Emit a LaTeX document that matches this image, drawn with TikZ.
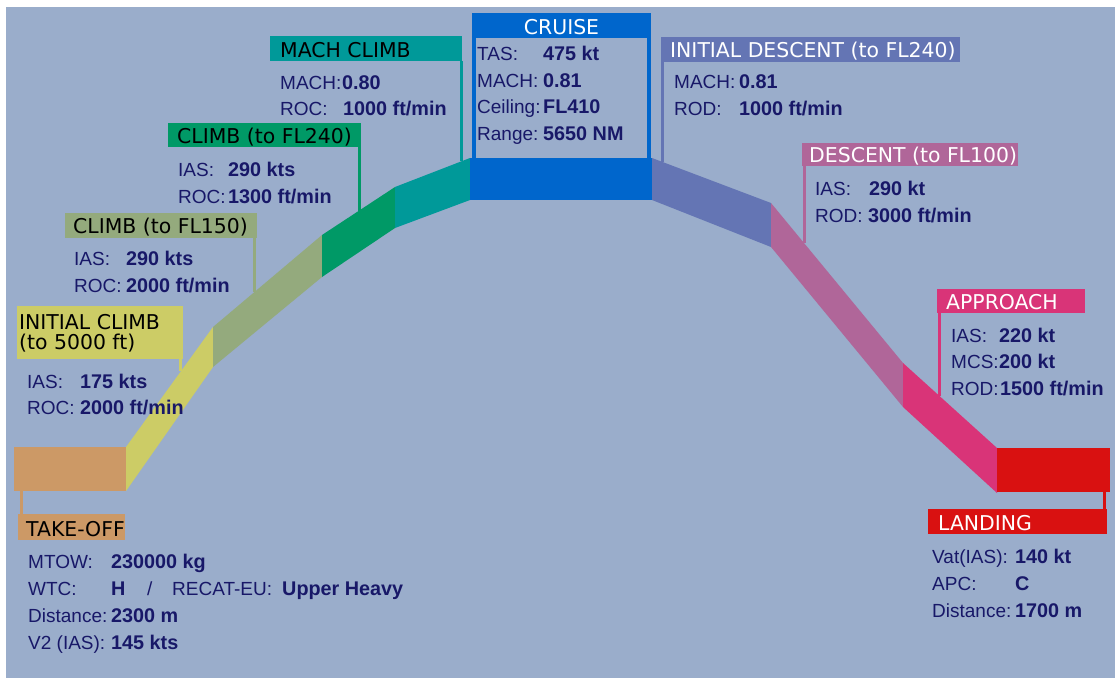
\documentclass[tikz,border=0pt]{standalone}
\usepackage{fontspec}
\setmainfont{Liberation Sans}
\newfontfamily\titlefont{DejaVu Sans}
\usetikzlibrary{calc}

% phase colours
\definecolor{bgpanel}{RGB}{154,173,203}
\definecolor{ink}{RGB}{24,24,104}
\definecolor{cTO}{RGB}{204,153,102}
\definecolor{cIC}{RGB}{204,204,102}
\definecolor{cCA}{RGB}{148,170,125}
\definecolor{cCB}{RGB}{0,153,102}
\definecolor{cMC}{RGB}{0,153,153}
\definecolor{cCR}{RGB}{0,102,204}
\definecolor{cID}{RGB}{100,117,180}
\definecolor{cDE}{RGB}{176,102,153}
\definecolor{cAP}{RGB}{217,52,120}
\definecolor{cLD}{RGB}{217,17,17}

\begin{document}
\begin{tikzpicture}[x=1pt,y=-1pt,
  key/.style={anchor=base west, inner sep=0pt, text=ink, font=\fontsize{19}{22}\selectfont},
  val/.style={anchor=base west, inner sep=0pt, text=ink, font=\fontsize{19.8}{22}\selectfont\bfseries},
  ttl/.style={anchor=base west, inner sep=0pt, font=\titlefont\fontsize{20.4}{20}\selectfont},
  tag/.style={anchor=north west, inner sep=0pt, outer sep=0pt, draw=none},
  lead/.style={line width=3pt}]

% canvas
\useasboundingbox (0,0) rectangle (1115,678);
\fill[white] (0,0) rectangle (1115,678);
\fill[bgpanel] (6,7) rectangle (1115,678);

% flight-profile band breakpoints (top / bottom edge)
\coordinate (p0t) at (126,447); \coordinate (p0b) at (126,491);
\coordinate (p1t) at (213,327); \coordinate (p1b) at (213,367);
\coordinate (p2t) at (322,235); \coordinate (p2b) at (322,277);
\coordinate (p3t) at (395,187); \coordinate (p3b) at (395,228);
\coordinate (p4t) at (470,158); \coordinate (p4b) at (470,200);
\coordinate (p5t) at (652,158); \coordinate (p5b) at (652,200);
\coordinate (p6t) at (771,203); \coordinate (p6b) at (771,247);
\coordinate (p7t) at (903,363); \coordinate (p7b) at (903,407);
\coordinate (p8t) at (997,448); \coordinate (p8b) at (997,493);

% band segments
\node[tag, fill=cTO, minimum width=112pt, minimum height=44pt] (tobox) at (14,447) {};
\fill[cIC] (p0t) -- (p1t) -- (p1b) -- (p0b) -- cycle;
\fill[cCA] (p1t) -- (p2t) -- (p2b) -- (p1b) -- cycle;
\fill[cCB] (p2t) -- (p3t) -- (p3b) -- (p2b) -- cycle;
\fill[cMC] (p3t) -- (p4t) -- (p4b) -- (p3b) -- cycle;
\fill[cCR] (p4t) -- (p5t) -- (p5b) -- (p4b) -- cycle;
\fill[cID] (p5t) -- (p6t) -- (p6b) -- (p5b) -- cycle;
\fill[cDE] (p6t) -- (p7t) -- (p7b) -- (p6b) -- cycle;
\fill[cAP] (p7t) -- (p8t) -- (p8b) -- (p7b) -- cycle;
\node[tag, fill=cLD, minimum width=113pt, minimum height=44pt] (ldbox) at (997,448) {};

% anchor points of the leader lines on the band
\coordinate (aIC) at ($(p0t)!0.632!(p1t)$);
\coordinate (aCA) at ($(p1t)!0.385!(p2t)$);
\coordinate (aCB) at ($(p2t)!0.507!(p3t)$);
\coordinate (aMC) at ($(p3t)!0.88!(p4t)$);
\coordinate (aID) at ($(p5t)!0.092!(p6t)$);
\coordinate (aDE) at ($(p6t)!0.25!(p7t)$);
\coordinate (aAP) at ($(p7t)!0.383!(p8t)$);

% ---------- TAKE-OFF ----------
\node[tag, fill=cTO, minimum width=107pt, minimum height=26pt] (totag) at (18,514) {};
\draw[lead, cTO] ([xshift=7.3pt]tobox.south west) -- ([xshift=7.3pt]tobox.south west |- totag.north);
\node[ttl] (tott) at (26,536) {TAKE-OFF};
\node[key] (tok1) at (28,568) {MTOW:};
\node[val] (tov1) at (111,568) {230000 kg};
\node[key] (tok2) at (28,595) {WTC:};
\node[val] (tov2) at (111,595) {H};
\node[key] (tok2b) at (147,595) {/};
\node[key] (tok2c) at (172,595) {RECAT-EU:};
\node[val] (tov2c) at (282,595) {Upper Heavy};
\node[key] (tok3) at (28,622) {Distance:};
\node[val] (tov3) at (111,622) {2300 m};
\node[key] (tok4) at (28,649) {V2 (IAS):};
\node[val] (tov4) at (111,649) {145 kts};

% ---------- INITIAL CLIMB ----------
\node[tag, fill=cIC, minimum width=166pt, minimum height=53pt] (ictag) at (17,306) {};
\draw[lead, cIC] (aIC |- ictag.south) -- (aIC);
\node[ttl] (ictt1) at (19,329) {INITIAL CLIMB};
\node[ttl] (ictt2) at (19,349) {(to 5000 ft)};
\node[key] (ick1) at (27,388) {IAS:};
\node[val] (icv1) at (80,388) {175 kts};
\node[key] (ick2) at (27,414) {ROC:};
\node[val] (icv2) at (80,414) {2000 ft/min};

% ---------- CLIMB (to FL150) ----------
\node[tag, fill=cCA, minimum width=192pt, minimum height=25pt] (catag) at (65,213) {};
\draw[lead, cCA] (aCA |- catag.south) -- (aCA);
\node[ttl] (catt) at (73,233) {CLIMB (to FL150)};
\node[key] (cak1) at (74,265) {IAS:};
\node[val] (cav1) at (126,265) {290 kts};
\node[key] (cak2) at (74,292) {ROC:};
\node[val] (cav2) at (126,292) {2000 ft/min};

% ---------- CLIMB (to FL240) ----------
\node[tag, fill=cCB, minimum width=193pt, minimum height=24pt] (cbtag) at (168,123) {};
\draw[lead, cCB] (aCB |- cbtag.south) -- (aCB);
\node[ttl] (cbtt) at (177,143) {CLIMB (to FL240)};
\node[key] (cbk1) at (178,176) {IAS:};
\node[val] (cbv1) at (228,176) {290 kts};
\node[key] (cbk2) at (178,203) {ROC:};
\node[val] (cbv2) at (228,203) {1300 ft/min};

% ---------- MACH CLIMB ----------
\node[tag, fill=cMC, minimum width=192pt, minimum height=25pt] (mctag) at (270,36) {};
\draw[lead, cMC] (aMC |- mctag.south) -- (aMC);
\node[ttl] (mctt) at (280,57) {MACH CLIMB};
\node[key] (mck1) at (280,89) {MACH:};
\node[val] (mcv1) at (342,89) {0.80};
\node[key] (mck2) at (280,115) {ROC:};
\node[val] (mcv2) at (343,115) {1000 ft/min};

% ---------- CRUISE ----------
\node[tag, fill=cCR, minimum width=179pt, minimum height=25pt] (crtag) at (472,13) {};
\draw[line width=4pt, cCR] ([xshift=2pt]crtag.south west) -- ([xshift=2pt]crtag.south west |- p4t);
\draw[line width=4pt, cCR] ([xshift=-2pt]crtag.south east) -- ([xshift=-2pt]crtag.south east |- p5t);
\node[ttl, anchor=base, text=white] (crtt) at (561.5,34) {CRUISE};
\node[key] (crk1) at (477,60) {TAS:};
\node[val] (crv1) at (543,60) {475 kt};
\node[key] (crk2) at (477,87) {MACH:};
\node[val] (crv2) at (543,87) {0.81};
\node[key] (crk3) at (477,113) {Ceiling:};
\node[val] (crv3) at (543,113) {FL410};
\node[key] (crk4) at (477,140) {Range:};
\node[val] (crv4) at (543,140) {5650 NM};

% ---------- INITIAL DESCENT ----------
\node[tag, fill=cID, minimum width=299pt, minimum height=25pt] (idtag) at (661,37) {};
\draw[lead, cID] (aID |- idtag.south) -- (aID);
\node[ttl, text=white] (idtt) at (670,57) {INITIAL DESCENT (to FL240)};
\node[key] (idk1) at (674,88) {MACH:};
\node[val] (idv1) at (739,88) {0.81};
\node[key] (idk2) at (674,115) {ROD:};
\node[val] (idv2) at (739,115) {1000 ft/min};

% ---------- DESCENT (to FL100) ----------
\node[tag, fill=cDE, minimum width=216pt, minimum height=23pt] (detag) at (802,143) {};
\draw[lead, cDE] (aDE |- detag.south) -- (aDE);
\node[ttl, text=white] (dett) at (809,162) {DESCENT (to FL100)};
\node[key] (dek1) at (815,195) {IAS:};
\node[val] (dev1) at (869,195) {290 kt};
\node[key] (dek2) at (815,222) {ROD:};
\node[val] (dev2) at (868,222) {3000 ft/min};

% ---------- APPROACH ----------
\node[tag, fill=cAP, minimum width=148pt, minimum height=24pt] (aptag) at (937,289) {};
\draw[lead, cAP] (aAP |- aptag.south) -- (aAP);
\node[ttl, text=white] (aptt) at (946,309) {APPROACH};
\node[key] (apk1) at (951,342) {IAS:};
\node[val] (apv1) at (999,342) {220 kt};
\node[key] (apk2) at (951,368) {MCS:};
\node[val] (apv2) at (999,368) {200 kt};
\node[key] (apk3) at (951,395) {ROD:};
\node[val] (apv3) at (1000,395) {1500 ft/min};

% ---------- LANDING ----------
\node[tag, fill=cLD, minimum width=179pt, minimum height=25pt] (ldtag) at (928,509) {};
\draw[lead, cLD] ([xshift=-5.5pt]ldbox.south east) -- ([xshift=-5.5pt]ldbox.south east |- ldtag.north);
\node[ttl, text=white] (ldtt) at (938,530) {LANDING};
\node[key] (ldk1) at (932,563) {Vat(IAS):};
\node[val] (ldv1) at (1015,563) {140 kt};
\node[key] (ldk2) at (932,590) {APC:};
\node[val] (ldv2) at (1015,590) {C};
\node[key] (ldk3) at (932,617) {Distance:};
\node[val] (ldv3) at (1015,617) {1700 m};
\end{tikzpicture}
\end{document}
